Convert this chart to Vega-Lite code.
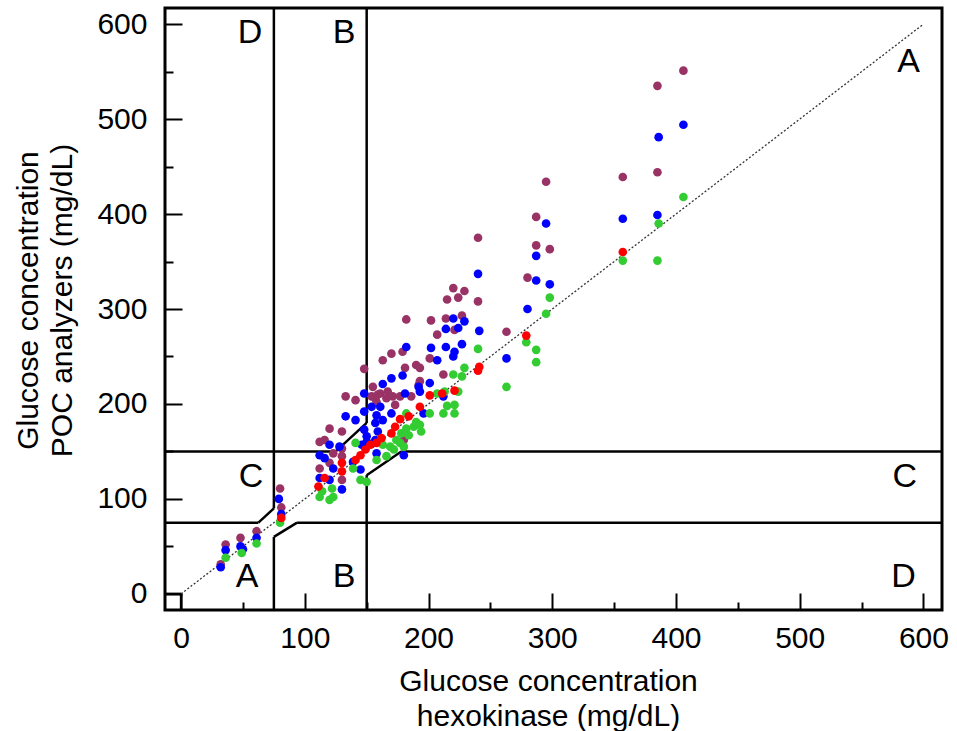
{
  "$schema": "https://vega.github.io/schema/vega-lite/v6.json",
  "width": 777,
  "height": 602,
  "autosize": {"type": "none"},
  "padding": {"left": 165, "top": 8, "right": 15, "bottom": 121},
  "background": "white",
  "config": {
    "view": {"stroke": "black", "strokeWidth": 3},
    "font": "Liberation Sans"
  },
  "datasets": {
    "lines": [
      {"x": 75, "y": 90, "x2": 75, "y2": 617},
      {"x": 62.5, "y": 75, "x2": 75, "y2": 90},
      {"x": -13, "y": 75, "x2": 62.5, "y2": 75},
      {"x": 93.75, "y": 75, "x2": 615, "y2": 75},
      {"x": 75, "y": 60, "x2": 93.75, "y2": 75},
      {"x": 75, "y": -17, "x2": 75, "y2": 60},
      {"x": 150, "y": 180, "x2": 150, "y2": 617},
      {"x": 125, "y": 150, "x2": 150, "y2": 180},
      {"x": -13, "y": 150, "x2": 125, "y2": 150},
      {"x": 178, "y": 150, "x2": 615, "y2": 150},
      {"x": 150, "y": 125, "x2": 178, "y2": 150},
      {"x": 150, "y": -17, "x2": 150, "y2": 125},
      {"x": -13, "y": 0, "x2": 0, "y2": 0},
      {"x": 0, "y": -17, "x2": 0, "y2": 0}
    ],
    "diag": [{"x": 0, "y": 0, "x2": 600, "y2": 600}],
    "labels": [
      {"x": 55.7, "y": 590.5, "t": "D"},
      {"x": 131.7, "y": 590.5, "t": "B"},
      {"x": 588, "y": 560, "t": "A"},
      {"x": 56.5, "y": 123, "t": "C"},
      {"x": 585, "y": 123, "t": "C"},
      {"x": 53.3, "y": 17.9, "t": "A"},
      {"x": 131.7, "y": 17.9, "t": "B"},
      {"x": 584, "y": 17.9, "t": "D"}
    ],
    "pts": [
      {"s": "P", "x": 32, "y": 31}, {"s": "P", "x": 36, "y": 52}, {"s": "P", "x": 48, "y": 59}, {"s": "P", "x": 61, "y": 66},
      {"s": "P", "x": 80, "y": 111}, {"s": "P", "x": 81, "y": 91}, {"s": "P", "x": 112, "y": 160}, {"s": "P", "x": 116, "y": 162},
      {"s": "P", "x": 120, "y": 174}, {"s": "P", "x": 130, "y": 171}, {"s": "P", "x": 123, "y": 148}, {"s": "P", "x": 130, "y": 153},
      {"s": "P", "x": 130, "y": 145}, {"s": "P", "x": 112, "y": 132}, {"s": "P", "x": 130, "y": 120}, {"s": "P", "x": 120, "y": 138},
      {"s": "P", "x": 133, "y": 208}, {"s": "P", "x": 141, "y": 204}, {"s": "P", "x": 148, "y": 237}, {"s": "P", "x": 154, "y": 208},
      {"s": "P", "x": 155, "y": 218}, {"s": "P", "x": 158, "y": 202}, {"s": "P", "x": 161, "y": 211}, {"s": "P", "x": 163, "y": 246},
      {"s": "P", "x": 167, "y": 213}, {"s": "P", "x": 170, "y": 253}, {"s": "P", "x": 171, "y": 208}, {"s": "P", "x": 173, "y": 199},
      {"s": "P", "x": 177, "y": 208}, {"s": "P", "x": 179, "y": 255}, {"s": "P", "x": 180, "y": 162}, {"s": "P", "x": 181, "y": 238},
      {"s": "P", "x": 182, "y": 289}, {"s": "P", "x": 190, "y": 241}, {"s": "P", "x": 192, "y": 220}, {"s": "P", "x": 193, "y": 238},
      {"s": "P", "x": 193, "y": 224}, {"s": "P", "x": 201, "y": 248}, {"s": "P", "x": 202, "y": 288}, {"s": "P", "x": 207, "y": 273},
      {"s": "P", "x": 212, "y": 231}, {"s": "P", "x": 214, "y": 290}, {"s": "P", "x": 215, "y": 310}, {"s": "P", "x": 220, "y": 322},
      {"s": "P", "x": 221, "y": 278}, {"s": "P", "x": 224, "y": 312}, {"s": "P", "x": 227, "y": 293}, {"s": "P", "x": 229, "y": 319},
      {"s": "P", "x": 240, "y": 375}, {"s": "P", "x": 240, "y": 308}, {"s": "P", "x": 159, "y": 210}, {"s": "P", "x": 157, "y": 206},
      {"s": "P", "x": 166, "y": 206}, {"s": "P", "x": 186, "y": 208}, {"s": "P", "x": 263, "y": 276}, {"s": "P", "x": 280, "y": 333},
      {"s": "P", "x": 287, "y": 397}, {"s": "P", "x": 287, "y": 367}, {"s": "P", "x": 295, "y": 434}, {"s": "P", "x": 298, "y": 363},
      {"s": "P", "x": 357, "y": 439}, {"s": "P", "x": 385, "y": 535}, {"s": "P", "x": 385, "y": 444}, {"s": "P", "x": 406, "y": 551},

      {"s": "B", "x": 32, "y": 28}, {"s": "B", "x": 36, "y": 46}, {"s": "B", "x": 48, "y": 50}, {"s": "B", "x": 50, "y": 47},
      {"s": "B", "x": 61, "y": 59}, {"s": "B", "x": 79, "y": 100}, {"s": "B", "x": 81, "y": 84}, {"s": "B", "x": 112, "y": 146},
      {"s": "B", "x": 116, "y": 143}, {"s": "B", "x": 120, "y": 157}, {"s": "B", "x": 123, "y": 132}, {"s": "B", "x": 112, "y": 122},
      {"s": "B", "x": 120, "y": 120}, {"s": "B", "x": 130, "y": 110}, {"s": "B", "x": 128, "y": 155}, {"s": "B", "x": 133, "y": 187},
      {"s": "B", "x": 141, "y": 183}, {"s": "B", "x": 139, "y": 139}, {"s": "B", "x": 145, "y": 131}, {"s": "B", "x": 146, "y": 157},
      {"s": "B", "x": 148, "y": 173}, {"s": "B", "x": 148, "y": 192}, {"s": "B", "x": 148, "y": 211}, {"s": "B", "x": 150, "y": 160},
      {"s": "B", "x": 150, "y": 166}, {"s": "B", "x": 154, "y": 197}, {"s": "B", "x": 154, "y": 158}, {"s": "B", "x": 157, "y": 180},
      {"s": "B", "x": 157, "y": 162}, {"s": "B", "x": 158, "y": 188}, {"s": "B", "x": 158, "y": 148}, {"s": "B", "x": 159, "y": 171},
      {"s": "B", "x": 161, "y": 197}, {"s": "B", "x": 163, "y": 183}, {"s": "B", "x": 163, "y": 221}, {"s": "B", "x": 170, "y": 227},
      {"s": "B", "x": 170, "y": 190}, {"s": "B", "x": 179, "y": 230}, {"s": "B", "x": 180, "y": 146}, {"s": "B", "x": 181, "y": 211},
      {"s": "B", "x": 182, "y": 260}, {"s": "B", "x": 192, "y": 218}, {"s": "B", "x": 193, "y": 213}, {"s": "B", "x": 196, "y": 190},
      {"s": "B", "x": 201, "y": 222}, {"s": "B", "x": 202, "y": 259}, {"s": "B", "x": 207, "y": 246}, {"s": "B", "x": 212, "y": 208},
      {"s": "B", "x": 214, "y": 279}, {"s": "B", "x": 214, "y": 260}, {"s": "B", "x": 220, "y": 290}, {"s": "B", "x": 220, "y": 250},
      {"s": "B", "x": 221, "y": 255}, {"s": "B", "x": 224, "y": 280}, {"s": "B", "x": 227, "y": 263}, {"s": "B", "x": 229, "y": 287},
      {"s": "B", "x": 240, "y": 337}, {"s": "B", "x": 241, "y": 277}, {"s": "B", "x": 263, "y": 248}, {"s": "B", "x": 280, "y": 300},
      {"s": "B", "x": 287, "y": 356}, {"s": "B", "x": 287, "y": 330}, {"s": "B", "x": 295, "y": 390}, {"s": "B", "x": 298, "y": 326},
      {"s": "B", "x": 357, "y": 395}, {"s": "B", "x": 385, "y": 399}, {"s": "B", "x": 386, "y": 481}, {"s": "B", "x": 406, "y": 494},

      {"s": "G", "x": 36, "y": 38}, {"s": "G", "x": 49, "y": 43}, {"s": "G", "x": 61, "y": 53}, {"s": "G", "x": 80, "y": 75},
      {"s": "G", "x": 112, "y": 102}, {"s": "G", "x": 114, "y": 108}, {"s": "G", "x": 120, "y": 99}, {"s": "G", "x": 122, "y": 111},
      {"s": "G", "x": 123, "y": 102}, {"s": "G", "x": 139, "y": 132}, {"s": "G", "x": 141, "y": 159}, {"s": "G", "x": 145, "y": 120},
      {"s": "G", "x": 150, "y": 118}, {"s": "G", "x": 158, "y": 141}, {"s": "G", "x": 163, "y": 157}, {"s": "G", "x": 166, "y": 145},
      {"s": "G", "x": 169, "y": 155}, {"s": "G", "x": 172, "y": 152}, {"s": "G", "x": 174, "y": 162}, {"s": "G", "x": 177, "y": 159},
      {"s": "G", "x": 178, "y": 169}, {"s": "G", "x": 180, "y": 155}, {"s": "G", "x": 182, "y": 190}, {"s": "G", "x": 182, "y": 174},
      {"s": "G", "x": 184, "y": 167}, {"s": "G", "x": 188, "y": 176}, {"s": "G", "x": 190, "y": 181}, {"s": "G", "x": 193, "y": 178},
      {"s": "G", "x": 194, "y": 171}, {"s": "G", "x": 201, "y": 190}, {"s": "G", "x": 207, "y": 211}, {"s": "G", "x": 212, "y": 190},
      {"s": "G", "x": 213, "y": 213}, {"s": "G", "x": 215, "y": 198}, {"s": "G", "x": 221, "y": 199}, {"s": "G", "x": 221, "y": 190},
      {"s": "G", "x": 224, "y": 213}, {"s": "G", "x": 220, "y": 231}, {"s": "G", "x": 227, "y": 229}, {"s": "G", "x": 229, "y": 238},
      {"s": "G", "x": 240, "y": 258}, {"s": "G", "x": 263, "y": 218}, {"s": "G", "x": 279, "y": 265}, {"s": "G", "x": 287, "y": 257},
      {"s": "G", "x": 287, "y": 244}, {"s": "G", "x": 295, "y": 295}, {"s": "G", "x": 298, "y": 312}, {"s": "G", "x": 357, "y": 351},
      {"s": "G", "x": 385, "y": 351}, {"s": "G", "x": 386, "y": 390}, {"s": "G", "x": 406, "y": 418},

      {"s": "R", "x": 81, "y": 80}, {"s": "R", "x": 111, "y": 113}, {"s": "R", "x": 116, "y": 122}, {"s": "R", "x": 130, "y": 129},
      {"s": "R", "x": 130, "y": 138}, {"s": "R", "x": 141, "y": 141}, {"s": "R", "x": 145, "y": 146}, {"s": "R", "x": 149, "y": 152},
      {"s": "R", "x": 153, "y": 157}, {"s": "R", "x": 158, "y": 159}, {"s": "R", "x": 162, "y": 164}, {"s": "R", "x": 170, "y": 169},
      {"s": "R", "x": 173, "y": 176}, {"s": "R", "x": 177, "y": 184}, {"s": "R", "x": 184, "y": 187}, {"s": "R", "x": 193, "y": 197},
      {"s": "R", "x": 201, "y": 209}, {"s": "R", "x": 211, "y": 211}, {"s": "R", "x": 221, "y": 214}, {"s": "R", "x": 240, "y": 235},
      {"s": "R", "x": 241, "y": 239}, {"s": "R", "x": 279, "y": 272}, {"s": "R", "x": 357, "y": 360}
    ]
  },
  "layer": [
    {
      "data": {"name": "lines"},
      "mark": {"type": "rule", "color": "black", "strokeWidth": 2.5},
      "encoding": {
        "x": {
          "field": "x", "type": "quantitative",
          "scale": {"domain": [-13, 615], "nice": false, "zero": false},
          "axis": {
            "grid": false, "domain": false,
            "values": [0, 25, 50, 75, 100, 125, 150, 175, 200, 225, 250, 275, 300, 325, 350, 375, 400, 425, 450, 475, 500, 525, 550, 575, 600],
            "tickSize": {"condition": {"test": "datum.value % 100 === 0", "value": -17}, "value": -8},
            "tickWidth": 2, "tickColor": "black",
            "labelExpr": "datum.value % 100 === 0 ? datum.label : ''",
            "labelFontSize": 30, "labelFont": "Liberation Sans", "labelColor": "black",
            "labelPadding": 30, "labelFlush": false, "labelOverlap": false,
            "title": ["Glucose concentration", "hexokinase (mg/dL)"],
            "titleFont": "Liberation Sans", "titleFontSize": 30, "titleFontWeight": "normal", "titleColor": "black",
            "titleLineHeight": 35, "titleBaseline": "alphabetic", "titleAlign": "center",
            "titleX": 383, "titleY": 80
          }
        },
        "x2": {"field": "x2"},
        "y": {
          "field": "y", "type": "quantitative",
          "scale": {"domain": [-17, 617], "nice": false, "zero": false},
          "axis": {
            "grid": false, "domain": false,
            "values": [0, 25, 50, 75, 100, 125, 150, 175, 200, 225, 250, 275, 300, 325, 350, 375, 400, 425, 450, 475, 500, 525, 550, 575, 600],
            "tickSize": {"condition": {"test": "datum.value % 100 === 0", "value": -17}, "value": -8},
            "tickWidth": 2, "tickColor": "black",
            "labelExpr": "datum.value % 100 === 0 ? datum.label : ''",
            "labelFontSize": 30, "labelFont": "Liberation Sans", "labelColor": "black",
            "labelPadding": 35, "labelFlush": false, "labelOverlap": false,
            "title": ["Glucose concentration", "POC analyzers (mg/dL)"],
            "titleFont": "Liberation Sans", "titleFontSize": 30, "titleFontWeight": "normal", "titleColor": "black",
            "titleLineHeight": 34, "titleBaseline": "alphabetic", "titleAlign": "center", "titleAngle": 270,
            "titleX": -128, "titleY": 292
          }
        },
        "y2": {"field": "y2"}
      }
    },
    {
      "data": {"name": "diag"},
      "mark": {"type": "rule", "color": "#333333", "strokeWidth": 1.3, "strokeDash": [2, 2]},
      "encoding": {
        "x": {"field": "x", "type": "quantitative"},
        "x2": {"field": "x2"},
        "y": {"field": "y", "type": "quantitative"},
        "y2": {"field": "y2"}
      }
    },
    {
      "data": {"name": "pts"},
      "mark": {"type": "circle", "size": 75, "opacity": 1},
      "encoding": {
        "x": {"field": "x", "type": "quantitative"},
        "y": {"field": "y", "type": "quantitative"},
        "color": {
          "field": "s", "type": "nominal",
          "scale": {"domain": ["P", "B", "G", "R"], "range": ["#993366", "#0000FF", "#33CC33", "#FF0000"]},
          "legend": null
        }
      }
    },
    {
      "data": {"name": "labels"},
      "mark": {"type": "text", "fontSize": 34, "font": "Liberation Sans", "align": "center", "baseline": "middle", "color": "black"},
      "encoding": {
        "x": {"field": "x", "type": "quantitative"},
        "y": {"field": "y", "type": "quantitative"},
        "text": {"field": "t"}
      }
    }
  ]
}
